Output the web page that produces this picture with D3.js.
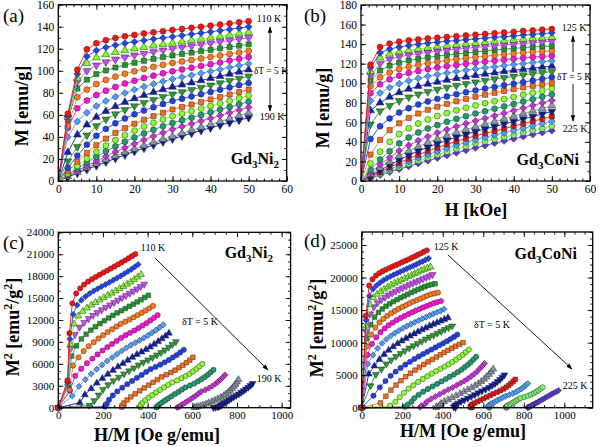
<!DOCTYPE html>
<html><head><meta charset="utf-8">
<script src="https://cdn.jsdelivr.net/npm/d3@7"></script>
<style>
body{margin:0;background:#fff}
svg{display:block}
svg text{font-family:"Liberation Serif","Times New Roman","DejaVu Serif",serif !important;fill:#000}
</style>
</head><body>
<svg id="chart" width="600" height="447" font-family="Liberation Serif"></svg>
<script>
// ---------------- DATA ----------------
const fieldKOe = [0,2.5,5,7.5,10,12.5,15,17.5,20,22.5,25,27.5,30,32.5,35,37.5,40,42.5,45,47.5,50];

const tempsNi = [110,115,120,125,130,135,140,145,150,155,160,165,170,175,180,185,190];
const magNi = [
 [0,61,101,119.5,125,127.8,129.8,131.3,132.6,133.8,134.9,136,137,138,139,140,141,142,143,144,145],
 [0,59,97,113,118.5,121.3,123.3,125,126.4,127.6,128.8,129.9,131,132.1,133.2,134.3,135.4,136.5,137.6,138.8,140],
 [0,58,93,107,112,114.8,116.8,118.5,120,121.4,122.7,124,125.2,126.4,127.6,128.8,130,131.2,132.4,133.7,135],
 [0,57,90,100,105,108,110.4,112.4,114.1,115.7,117.2,118.6,120,121.3,122.6,123.9,125.1,126.3,127.5,128.8,130],
 [0,55,84,92,97,100.3,103,105.3,107.3,109.1,110.8,112.4,113.9,115.2,116.5,117.8,119,120.3,121.5,122.8,124],
 [0,50,76,83,88,91.7,94.7,97.3,99.6,101.7,103.6,105.4,107.1,108.5,109.8,111.2,112.6,113.9,115.3,116.6,118],
 [0,48,66,73,78,82,85.4,88.4,91,93.4,95.6,97.7,99.6,101.2,102.8,104.4,106,107.6,109.3,110.9,112.5],
 [0,40,54,62,68,72.6,76.5,79.9,82.9,85.6,88.1,90.4,92.5,94.3,96,97.8,99.5,101.3,103,104.8,106.5],
 [0,26,42,51,58,63.3,67.7,71.5,74.8,77.8,80.5,83,85.3,87.3,89.2,91.2,93.2,95.1,97.1,99,101],
 [0,18,31,41.5,50,56,60.7,64.6,68,71,73.8,76.4,78.8,80.8,82.9,84.9,86.9,88.9,91,93,95],
 [0,12,23,33,41,47.3,52.4,56.7,60.5,63.9,67,69.9,72.6,74.7,76.7,78.8,80.8,82.9,84.9,87,89],
 [0,8.8,17.5,25.5,32.5,38.5,43.6,48,52,55.6,58.9,62,64.9,67.2,69.4,71.7,74,76.2,78.5,80.7,83],
 [0,6.8,13.6,20.3,26.5,32.1,37.1,41.6,45.7,49.4,52.8,55.9,58.8,61.1,63.5,65.8,68.1,70.5,72.8,75.2,77.5],
 [0,5.7,11.3,16.8,22,26.9,31.4,35.6,39.5,43.1,46.5,49.7,52.7,55.1,57.5,60,62.4,64.8,67.2,69.6,72],
 [0,4.7,9.3,13.8,18.2,22.4,26.4,30.2,33.8,37.3,40.6,43.8,46.9,49.4,51.9,54.4,56.9,59.5,62,64.5,67],
 [0,4.1,8.1,12,15.7,19.3,22.7,26,29.1,32.1,35,37.8,40.5,43.3,46,48.7,51.4,54.1,56.7,59.4,62],
 [0,3.6,7.1,10.5,13.9,17.2,20.5,23.7,26.8,29.8,32.7,35.5,38.2,40.8,43.3,45.8,48.2,50.6,52.9,55.2,57.5]
];

const tempsCo = [125,130,135,140,145,150,155,160,165,170,175,180,185,190,195,200,205,210,215,220,225];
const magCo = [
 [0,119,137,140.5,142.5,143.8,144.8,145.7,146.5,147.3,148,148.8,149.6,150.3,151,151.8,152.5,153.3,154,154.8,155.5],
 [0,116,131,135,137,138.6,139.9,141,142,142.9,143.7,144.5,145.3,146.1,146.9,147.6,148.4,149.2,149.9,150.7,151.5],
 [0,112,126,130,132,133.6,135,136.2,137.3,138.3,139.2,140.1,141,141.9,142.7,143.5,144.3,145.1,145.8,146.4,147],
 [0,108,120,124.5,127,128.8,130.3,131.6,132.7,133.8,134.8,135.7,136.6,137.5,138.3,139.1,139.9,140.7,141.5,142.2,143],
 [0,103,113,118,121,123.2,124.9,126.4,127.7,128.9,130,131,132,133,133.9,134.8,135.6,136.4,137.1,137.6,138],
 [0,97,106,111,114.5,116.9,118.8,120.5,122,123.3,124.5,125.6,126.7,127.7,128.6,129.5,130.4,131.2,132,132.5,133],
 [0,90,99,104,107.7,110.4,112.6,114.4,116,117.4,118.7,119.9,121,122.1,123.1,124.1,125,125.9,126.7,127.4,128],
 [0,82,90,95.5,99.5,102.6,105,107.1,108.9,110.5,112,113.3,114.6,115.8,116.9,118,119.1,120.1,121.1,122,123],
 [0,72,80,86,90.5,94,96.8,99.2,101.3,103.2,104.9,106.5,108,109.4,110.7,112,113.2,114.3,115.4,116.5,117.5],
 [0,58,71.5,77,82,85.7,88.7,91.3,93.6,95.7,97.6,99.4,101.1,102.7,104.2,105.6,107,108.3,109.6,110.8,112],
 [0,43,56,64,70,74.5,78.2,81.3,84,86.5,88.7,90.8,92.7,94.5,96.2,97.9,99.5,101.1,102.7,104.3,106],
 [0,27,42,52,59,64.5,69,72.8,76,78.9,81.5,83.9,86.1,88.2,90.2,92.1,93.9,95.6,97.2,98.6,100],
 [0,17.9,30,40,48,54,58.8,62.9,66.4,69.5,72.3,74.9,77.3,79.5,81.6,83.8,85.9,88.1,90.2,92.4,94.5],
 [0,11.7,22,30.5,38.5,44.5,49.5,53.6,57.2,60.5,63.5,66.3,69,71.4,73.9,76.3,78.8,81.2,83.6,86.1,88.5],
 [0,8.7,17,24,31,36.5,41.3,45.5,49.3,52.7,55.8,58.7,61.5,64.1,66.8,69.4,72,74.6,77.3,79.9,82.5],
 [0,6.8,13.5,19.5,25.5,30.7,35.2,39.3,43,46.4,49.6,52.6,55.4,58.1,60.8,63.5,66.2,68.9,71.6,74.3,77],
 [0,5.4,11,16.3,21.5,26.3,30.6,34.6,38.2,41.6,44.8,47.8,50.6,53.2,55.7,58.3,60.8,63.4,65.9,68.5,71],
 [0,4.6,9.3,14,18.5,22.9,26.9,30.6,34.1,37.4,40.5,43.4,46.2,48.7,51.2,53.6,56.1,58.6,61.1,63.5,66],
 [0,3.95,8,12,16,19.9,23.6,27.1,30.4,33.6,36.6,39.5,42.2,44.6,46.9,49.2,51.6,53.9,56.3,58.7,61],
 [0,3.5,7,10.5,14,17.4,20.6,23.8,26.9,29.9,32.8,35.6,38.3,40.5,42.7,44.9,47.1,49.4,51.6,53.8,56],
 [0,3.05,6.1,9.1,12.1,15,17.9,20.75,23.5,26.2,28.8,31.4,33.9,36.3,38.7,41,43.2,45.4,47.5,49.5,51.5]
];

const xTicksM = [0,10,20,30,40,50,60];
const yTicksNi = [0,20,40,60,80,100,120,140,160];
const yTicksCo = [0,20,40,60,80,100,120,140,160,180];
const xTicksArrott = [0,200,400,600,800,1000];
const yTicksArrottNi = [0,3000,6000,9000,12000,15000,18000,21000,24000];
const yTicksArrottCo = [0,5000,10000,15000,20000,25000];

// ---------------- STYLE ----------------
const FONT = "'Liberation Serif','Times New Roman','DejaVu Serif',serif";
const colors = ["#ff1010","#1f45f0","#7dff2a","#c44cf2","#1f9a2a","#ff7a1a","#ff10d8","#4b9cff","#0d1fa8","#2b9a36",
                "#1f40e8","#ff6a14","#8cff2e","#1f9b72","#c62fd6","#8896a8","#0b1c96","#ee1010","#4aa0f5","#7df56a","#5a35dc"];
const shapes = ["circle","diamond","triUp","triDown","square","circle","circle","diamond","triUp","triDown",
                "circle","square","circle","circle","diamond","triUp","triDown","square","diamond","circle","diamond"];

const svg = d3.select("#chart");
const defs = svg.append("defs");
defs.append("marker").attr("id","ah").attr("viewBox","0 0 10 10").attr("refX",9).attr("refY",5)
  .attr("markerWidth",7).attr("markerHeight",7).attr("orient","auto-start-reverse")
  .append("path").attr("d","M0,1.5L10,5L0,8.5Z").attr("fill","#000");

function symbolPath(shape, size){
  if(shape==="circle") return d3.symbol().type(d3.symbolCircle).size(size)();
  if(shape==="square") return d3.symbol().type(d3.symbolSquare).size(size*0.95)();
  if(shape==="diamond") return d3.symbol().type(d3.symbolSquare).size(size*0.85)();
  return d3.symbol().type(d3.symbolTriangle).size(size*0.95)();
}
function symbolRot(shape){
  if(shape==="diamond") return 45;
  if(shape==="triDown") return 180;
  return 0;
}

function panel(cfg){
  const x = d3.scaleLinear().domain(cfg.xdom).range([cfg.left,cfg.right]);
  const y = d3.scaleLinear().domain(cfg.ydom).range([cfg.bottom,cfg.top]);
  const g = svg.append("g");
  const fmt = d => d;

  const sg = g.append("g");
  const n = cfg.mags.length;
  for(let s=n-1;s>=0;s--){
    const pts = cfg.mags[s].map((m,i)=>cfg.map(fieldKOe[i],m));
    sg.append("path").datum(pts)
      .attr("d", d3.line().x(d=>x(d[0])).y(d=>y(d[1])))
      .attr("fill","none").attr("stroke",colors[s]).attr("stroke-width",0.9);
    const shp = shapes[s];
    const p = symbolPath(shp, cfg.msize);
    sg.selectAll(null).data(pts.filter((d,i)=>cfg.showZero || i>0)).enter().append("path")
      .attr("d",p)
      .attr("transform",d=>`translate(${x(d[0])},${y(d[1])}) rotate(${symbolRot(shp)})`)
      .attr("fill",colors[s]).attr("stroke","#2a2a2a").attr("stroke-width",0.5);
  }

  const ax = (gen, tr, vals, size, labels) => {
    const a = g.append("g").attr("transform",tr)
      .call(gen.tickValues(vals).tickSize(size).tickPadding(labels?4:0).tickFormat(labels?fmt:""));
    a.attr("font-family",FONT);
    a.select(".domain").remove();
    a.selectAll("line").attr("stroke","#000").attr("stroke-width",0.9);
    a.selectAll("text").attr("font-size",cfg.tickFont).style("font-family",FONT);
    return a;
  };
  const xMinor = d3.range(cfg.xdom[0],cfg.xdom[1]+1e-9,cfg.xmin);
  const yMinor = d3.range(cfg.ydom[0],cfg.ydom[1]+1e-9,cfg.ymin);
  ax(d3.axisBottom(x), `translate(0,${cfg.bottom})`, cfg.xticks, -5, true);
  ax(d3.axisBottom(x), `translate(0,${cfg.bottom})`, xMinor, -2.5, false);
  ax(d3.axisTop(x), `translate(0,${cfg.top})`, cfg.xticks, -5, false);
  ax(d3.axisTop(x), `translate(0,${cfg.top})`, xMinor, -2.5, false);
  ax(d3.axisLeft(y), `translate(${cfg.left},0)`, cfg.yticks, -5, true);
  ax(d3.axisLeft(y), `translate(${cfg.left},0)`, yMinor, -2.5, false);
  ax(d3.axisRight(y), `translate(${cfg.right},0)`, cfg.yticks, -5, false);
  ax(d3.axisRight(y), `translate(${cfg.right},0)`, yMinor, -2.5, false);

  g.append("rect").attr("x",cfg.left).attr("y",cfg.top)
    .attr("width",cfg.right-cfg.left).attr("height",cfg.bottom-cfg.top)
    .attr("fill","none").attr("stroke","#000").attr("stroke-width",1.3);
  return {x,y,g};
}

const mapM = (h,m)=>[h,m];
const mapArrott = (h,m)=>[h===0?0:h*1000/m, m*m];

panel({left:58.3,right:286.7,top:4.7,bottom:181,xdom:[0,60],ydom:[0,160],xticks:xTicksM,yticks:yTicksNi,
  xmin:2,ymin:10,mags:magNi,map:mapM,msize:28,tickFont:11.5,showZero:false});
panel({left:361,right:590,top:5,bottom:181,xdom:[0,60],ydom:[0,180],xticks:xTicksM,yticks:yTicksCo,
  xmin:2,ymin:10,mags:magCo,map:mapM,msize:28,tickFont:11.5,showZero:false});
panel({left:58.3,right:290.6,top:232.3,bottom:407.7,xdom:[0,1040],ydom:[0,24000],xticks:xTicksArrott,yticks:yTicksArrottNi,
  xmin:50,ymin:1000,mags:magNi,map:mapArrott,msize:22,tickFont:11,showZero:true});
panel({left:361.7,right:592.7,top:232,bottom:407.7,xdom:[0,1140],ydom:[0,27000],xticks:xTicksArrott,yticks:yTicksArrottCo,
  xmin:50,ymin:1000,mags:magCo,map:mapArrott,msize:22,tickFont:11,showZero:true});

// ---------------- TEXT ----------------
function txt(x,y,str,opt={}){
  const t = svg.append("text").attr("x",x).attr("y",y).text(str)
    .attr("font-size",opt.size||10).attr("text-anchor",opt.anchor||"start").style("font-family",FONT);
  if(opt.bold) t.attr("font-weight","bold");
  return t;
}
txt(3,22,"(a)",{size:19});
txt(304,22,"(b)",{size:19});
txt(3,249,"(c)",{size:19});
txt(304,247,"(d)",{size:19});

function yTitle(cx,cy,parts){
  const t = svg.append("text").attr("transform",`translate(${cx},${cy}) rotate(-90)`)
    .attr("text-anchor","middle").attr("font-weight","bold").attr("font-size",18).style("font-family",FONT);
  parts.forEach(p=>{
    const ts = t.append("tspan").text(p.t);
    if(p.sup){ ts.attr("font-size",12).attr("dy",-7); }
    else if(p.back){ ts.attr("dy",7); }
  });
}
yTitle(28,106,[{t:"M [emu/g]"}]);
yTitle(329,108,[{t:"M [emu/g]"}]);
yTitle(19,327,[{t:"M"},{t:"2",sup:true},{t:" [emu",back:true},{t:"2",sup:true},{t:"/g",back:true},{t:"2",sup:true},{t:"]",back:true}]);
yTitle(323,328,[{t:"M"},{t:"2",sup:true},{t:" [emu",back:true},{t:"2",sup:true},{t:"/g",back:true},{t:"2",sup:true},{t:"]",back:true}]);

txt(476,216,"H [kOe]",{size:18,bold:true,anchor:"middle"});
txt(157,441,"H/M [Oe g/emu]",{size:18,bold:true,anchor:"middle"});
txt(463,437,"H/M [Oe g/emu]",{size:18,bold:true,anchor:"middle"});

function formula(x,y,parts){
  const t = svg.append("text").attr("x",x).attr("y",y).attr("text-anchor","end")
    .attr("font-weight","bold").attr("font-size",16).style("font-family",FONT);
  parts.forEach(p=>{
    const ts=t.append("tspan").text(p.t);
    if(p.sub){ ts.attr("font-size",11).attr("dy",4); }
    else if(p.back){ ts.attr("dy",-4); }
  });
}
formula(279,164,[{t:"Gd"},{t:"3",sub:true},{t:"Ni",back:true},{t:"2",sub:true}]);
formula(579,165,[{t:"Gd"},{t:"3",sub:true},{t:"CoNi",back:true}]);
formula(273,258,[{t:"Gd"},{t:"3",sub:true},{t:"Ni",back:true},{t:"2",sub:true}]);
formula(577,259,[{t:"Gd"},{t:"3",sub:true},{t:"CoNi",back:true}]);

function arrow(x1,y1,x2,y2){
  svg.append("line").attr("x1",x1).attr("y1",y1).attr("x2",x2).attr("y2",y2)
    .attr("stroke","#000").attr("stroke-width",0.9).attr("marker-end","url(#ah)");
}
txt(269,22,"110 K",{size:10,anchor:"middle"});
arrow(270,64,270,27);
txt(271,74,"δT = 5 K",{size:9.5,anchor:"middle"});
arrow(270,78,270,111);
txt(272,120,"190 K",{size:10,anchor:"middle"});

txt(574,31,"125 K",{size:10,anchor:"middle"});
arrow(573,72,573,36);
txt(574,80,"δT = 5 K",{size:9.5,anchor:"middle"});
arrow(573,84,573,121);
txt(575,132,"225 K",{size:10,anchor:"middle"});

txt(153,251,"110 K",{size:10,anchor:"middle"});
arrow(155,258,268,370);
txt(200,325,"δT = 5 K",{size:10,anchor:"middle"});
txt(269,382,"190 K",{size:10,anchor:"middle"});

txt(446,250,"125 K",{size:10,anchor:"middle"});
arrow(448,255,572,369);
txt(492,328,"δT = 5 K",{size:10,anchor:"middle"});
txt(575,389,"225 K",{size:10,anchor:"middle"});
</script>
</body></html>
